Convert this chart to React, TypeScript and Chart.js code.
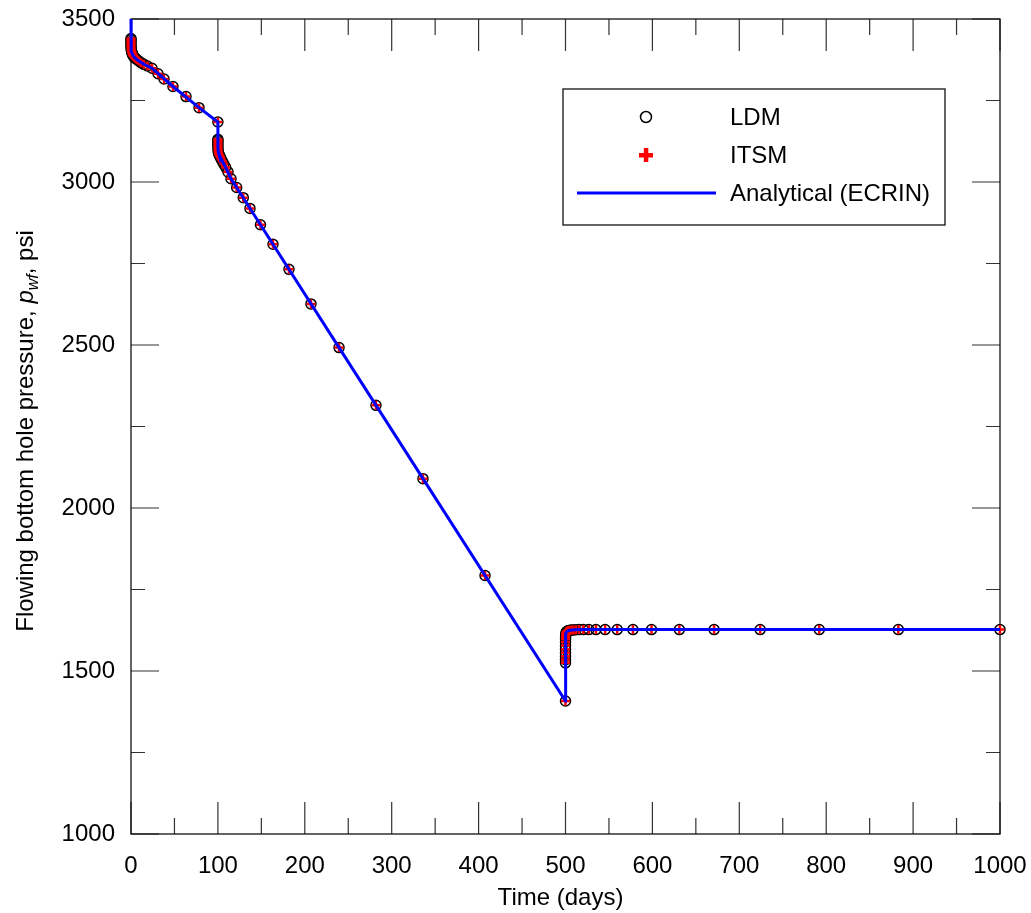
import React, { useEffect, useRef } from 'react';
import { Chart, registerables } from 'chart.js';

Chart.register(...registerables);

// ---- Data ----
const markerTime = [
  0.0005, 0.001, 0.003, 0.01, 0.03, 0.1, 0.3, 0.6, 1.0, 1.3, 1.6, 2.0, 2.6, 3.4, 4.3, 5.5, 7.0, 9.0, 11.5, 14.8, 18.9,
  24.2, 31.1, 38.0, 48.3, 63.3, 78.3, 100.0,
  100.0005, 100.001, 100.003, 100.01, 100.03, 100.1, 100.3, 100.7, 101.1, 101.5, 102.2, 103.0, 104.0, 105.3, 106.8,
  108.9, 111.6, 115.1, 121.6, 129.2, 136.9, 149.0, 163.4, 181.8, 207.1, 239.4, 281.9, 336.0, 407.4, 500.0,
  500.0005, 500.001, 500.002, 500.004, 500.008, 500.015, 500.03, 500.06, 500.12, 500.25, 500.5, 500.8, 501.2, 501.7,
  502.3, 503.1, 504.1, 505.4, 507.1, 509.2, 512.1, 515.7, 520.5, 526.8, 535.0, 545.6, 559.5, 577.6, 599.0, 631.0,
  671.0, 724.0, 792.0, 883.0, 1000.0,
];

const ldmPressure = [
  3440, 3436, 3430, 3424, 3418, 3412, 3406, 3402, 3398, 3395, 3392, 3390, 3387, 3384, 3381, 3378, 3375, 3371, 3366, 3361, 3356,
  3349, 3332, 3316, 3293, 3262, 3228, 3184,
  3131, 3127, 3121, 3115, 3108, 3101, 3094, 3089, 3086, 3083, 3079, 3075, 3069, 3063, 3055,
  3045, 3031, 3010, 2983, 2952, 2919, 2869, 2809, 2732, 2626, 2492, 2315, 2090, 1793, 1408,
  1525, 1535, 1545, 1556, 1567, 1578, 1589, 1598, 1605, 1611, 1615, 1618, 1620, 1621.5,
  1622.5, 1623.5, 1624.5, 1625, 1625.5, 1626, 1626.5, 1627, 1627, 1627, 1627, 1627, 1627, 1627, 1627, 1627,
  1627, 1627, 1627, 1627, 1627,
];

const itsmPressure = [
  3440, 3436, 3430, 3424, 3418, 3412, 3406, 3402, 3398, 3395, 3392, 3390, 3387, 3384, 3381, 3378, 3375, 3371, 3366, 3361, 3356,
  3349, 3332, 3316, 3293, 3262, 3228, 3184,
  3131, 3127, 3121, 3115, 3108, 3101, 3094, 3089, 3086, 3083, 3079, 3075, 3069, 3063, 3055,
  3045, 3031, 3010, 2983, 2952, 2919, 2869, 2809, 2732, 2626, 2492, 2315, 2090, 1793, 1408,
  1525, 1535, 1545, 1556, 1567, 1578, 1589, 1598, 1605, 1611, 1615, 1618, 1620, 1621.5,
  1622.5, 1623.5, 1624.5, 1625, 1625.5, 1626, 1626.5, 1627, 1627, 1627, 1627, 1627, 1627, 1627, 1627, 1627,
  1627, 1627, 1627, 1627, 1627,
];

const analyticalTime = [
  0, 0.0005, 0.01, 0.1, 0.6, 1.6, 3.4, 7.0, 14.8, 24.2, 48.3, 78.3, 100.0,
  100.0005, 100.01, 100.3, 101.1, 103.0, 105.3, 108.9, 115.1, 149.0, 239.4, 336.0, 500.0,
  500.0005, 500.01, 500.12, 500.5, 501.2, 502.3, 504.1, 507.1, 512.1, 520.5, 545.6, 1000.0,
];
const analyticalPressure = [
  3500, 3440, 3424, 3412, 3402, 3392, 3384, 3375, 3361, 3349, 3293, 3228, 3184,
  3131, 3115, 3094, 3086, 3075, 3063, 3045, 3010, 2869, 2492, 2090, 1408,
  1525, 1567, 1605, 1615, 1620, 1622.5, 1624.5, 1625.5, 1626.5, 1627, 1627, 1627,
];

const seriesNames = ['LDM', 'ITSM', 'Analytical (ECRIN)'];
const xTitle = 'Time (days)';
const yTitleParts = ['Flowing bottom hole pressure, ', 'p', 'wf', ', psi'];

const FONT = "'Liberation Sans', Arial, Helvetica, sans-serif";

const toPoints = (xs: number[], ys: number[]) => xs.map((x, i) => ({ x, y: ys[i] }));

const framePlugin = {
  id: 'frameTicks',
  beforeDatasetsDraw(chart: any) {
    const { ctx, chartArea: a, scales } = chart;
    const xs = scales.x;
    const ys = scales.y;
    ctx.save();
    // ticks
    ctx.strokeStyle = '#333';
    ctx.lineWidth = 1.2;
    const xt = xs.ticks.map((t: any) => t.value);
    const yt = ys.ticks.map((t: any) => t.value);
    ctx.beginPath();
    xt.forEach((v: number, i: number) => {
      const px = xs.getPixelForValue(v);
      ctx.moveTo(px, a.bottom); ctx.lineTo(px, a.bottom - 32);
      ctx.moveTo(px, a.top); ctx.lineTo(px, a.top + 32);
      if (i < xt.length - 1) {
        const pm = xs.getPixelForValue((v + xt[i + 1]) / 2);
        ctx.moveTo(pm, a.bottom); ctx.lineTo(pm, a.bottom - 16);
        ctx.moveTo(pm, a.top); ctx.lineTo(pm, a.top + 16);
      }
    });
    yt.forEach((v: number, i: number) => {
      const py = ys.getPixelForValue(v);
      ctx.moveTo(a.left, py); ctx.lineTo(a.left + 28, py);
      ctx.moveTo(a.right, py); ctx.lineTo(a.right - 28, py);
      if (i < yt.length - 1) {
        const pm = ys.getPixelForValue((v + yt[i + 1]) / 2);
        ctx.moveTo(a.left, pm); ctx.lineTo(a.left + 14, pm);
        ctx.moveTo(a.right, pm); ctx.lineTo(a.right - 14, pm);
      }
    });
    ctx.stroke();
    // frame
    ctx.strokeStyle = '#111';
    ctx.lineWidth = 1.3;
    ctx.strokeRect(a.left, a.top, a.right - a.left, a.bottom - a.top);

    // axis titles
    ctx.fillStyle = '#000';
    ctx.textBaseline = 'alphabetic';
    ctx.textAlign = 'center';
    ctx.font = `24px ${FONT}`;
    ctx.fillText(xTitle, 560.5, 905);

    // y title with italic subscript
    const fN = `24px ${FONT}`;
    const fI = `italic 24px ${FONT}`;
    const fS = `italic 16px ${FONT}`;
    const fonts = [fN, fI, fS, fN];
    const shifts = [0, 0, 5, 0];
    const widths = yTitleParts.map((s, i) => { ctx.font = fonts[i]; return ctx.measureText(s).width; });
    const total = widths.reduce((s, w) => s + w, 0);
    ctx.translate(33, 431);
    ctx.rotate(-Math.PI / 2);
    ctx.textAlign = 'left';
    let cx = -total / 2;
    yTitleParts.forEach((s, i) => {
      ctx.font = fonts[i];
      ctx.fillText(s, cx, shifts[i]);
      cx += widths[i];
    });
    ctx.restore();
  },
  afterDraw(chart: any) {
    const { ctx } = chart;
    ctx.save();
    ctx.fillStyle = '#fff';
    ctx.fillRect(563, 89, 382, 136);
    ctx.strokeStyle = '#111';
    ctx.lineWidth = 1.3;
    ctx.strokeRect(563, 89, 382, 136);
    // LDM
    ctx.beginPath();
    ctx.strokeStyle = '#000';
    ctx.lineWidth = 1.5;
    ctx.arc(646, 117, 5.5, 0, Math.PI * 2);
    ctx.stroke();
    // ITSM
    ctx.fillStyle = '#ff0000';
    ctx.fillRect(639, 153, 14, 4.5);
    ctx.fillRect(643.8, 148, 4.5, 14);
    // Analytical
    ctx.beginPath();
    ctx.strokeStyle = '#0000ff';
    ctx.lineWidth = 3;
    ctx.moveTo(577, 193);
    ctx.lineTo(716, 193);
    ctx.stroke();
    ctx.fillStyle = '#000';
    ctx.font = `24px ${FONT}`;
    ctx.textAlign = 'left';
    ctx.textBaseline = 'middle';
    ctx.fillText(seriesNames[0], 730, 118);
    ctx.fillText(seriesNames[1], 730, 156);
    ctx.fillText(seriesNames[2], 730, 194);
    ctx.restore();
  },
};

export default function App() {
  const ref = useRef<HTMLCanvasElement>(null);
  useEffect(() => {
    if (!ref.current) return;
    const chart = new Chart(ref.current, {
      type: 'scatter',
      data: {
        datasets: [
          {
            label: seriesNames[2],
            data: toPoints(analyticalTime, analyticalPressure),
            showLine: true,
            borderColor: '#0000ff',
            borderWidth: 3,
            pointRadius: 0,
            tension: 0,
            clip: false as any,
            order: 0,
          },
          {
            label: seriesNames[1],
            data: toPoints(markerTime, itsmPressure),
            showLine: false,
            pointStyle: 'cross',
            pointRadius: 4.5,
            borderWidth: 2.5,
            borderColor: '#ff0000',
            backgroundColor: '#ff0000',
            clip: false as any,
            order: 1,
          },
          {
            label: seriesNames[0],
            data: toPoints(markerTime, ldmPressure),
            showLine: false,
            pointStyle: 'circle',
            pointRadius: 5,
            borderWidth: 1.5,
            borderColor: '#000',
            backgroundColor: 'rgba(0,0,0,0)',
            clip: false as any,
            order: 2,
          },
        ],
      },
      options: {
        animation: false,
        responsive: false,
        maintainAspectRatio: false,
        devicePixelRatio: 1,
        layout: { padding: { top: 19, right: 31, left: 0, bottom: 0 } },
        plugins: { legend: { display: false }, tooltip: { enabled: false } },
        events: [],
        scales: {
          x: {
            type: 'linear',
            min: 0,
            max: 1000,
            position: 'bottom',
            grid: { display: false, drawTicks: false },
            border: { display: false },
            ticks: {
              stepSize: 100,
              autoSkip: false,
              maxRotation: 0,
              padding: 18,
              color: '#000',
              font: { family: FONT, size: 24 },
              callback: (v: any) => String(v),
            },
            afterFit: (s: any) => {
              s.height = 79;
              s.paddingLeft = 0; s.paddingRight = 0; s.paddingTop = 0; s.paddingBottom = 0;
            },
          },
          y: {
            type: 'linear',
            min: 1000,
            max: 3500,
            grid: { display: false, drawTicks: false },
            border: { display: false },
            ticks: {
              stepSize: 500,
              autoSkip: false,
              padding: 16,
              color: '#000',
              font: { family: FONT, size: 24 },
              callback: (v: any) => String(v),
            },
            afterFit: (s: any) => {
              s.width = 131;
              s.paddingLeft = 0; s.paddingRight = 0; s.paddingTop = 0; s.paddingBottom = 0;
            },
          },
        },
      },
      plugins: [framePlugin],
    });
    return () => chart.destroy();
  }, []);
  return (
    <div style={{ position: 'absolute', left: 0, top: 0, width: 1031, height: 913, background: '#fff' }}>
      <canvas ref={ref} width={1031} height={913} style={{ display: 'block', width: 1031, height: 913 }} />
    </div>
  );
}
